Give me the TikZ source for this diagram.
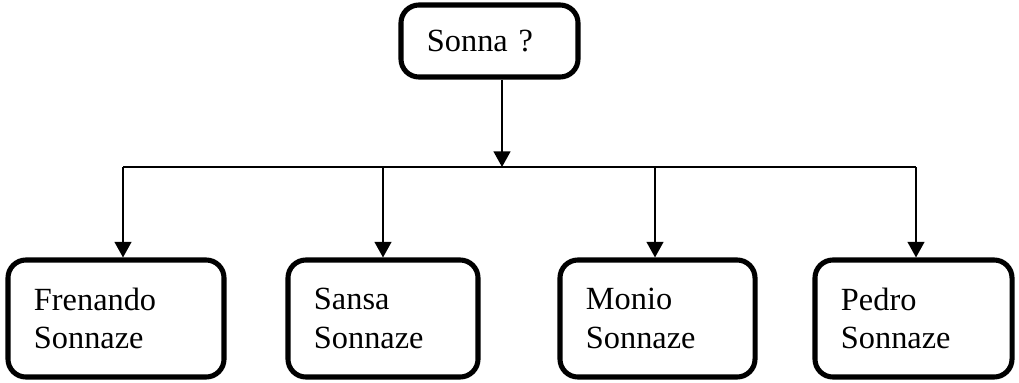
\documentclass[tikz,border=0pt]{standalone}
\usepackage{fontspec}
\setmainfont{Liberation Serif}
\usetikzlibrary{arrows.meta}
\begin{document}
\begin{tikzpicture}[x=0.025cm, y=-0.025cm,
    namebox/.style={draw, line width=3.6pt, rounded corners=0.45cm,
        text width=#1, inner xsep=0.65cm, align=left,
        font=\fontsize{23}{27.5}\selectfont},
    link/.style={line width=1.3pt, -{Triangle[length=0.39cm,width=0.42cm]}}]
    \useasboundingbox (0,0) rectangle (1019,382);

    % Question
    \node[namebox=3.125cm, minimum height=1.8cm] (sonna) at (489.5,41) {Sonna ?};

    % Children
    \node[namebox=4.1cm, minimum height=2.925cm] (frenando) at (116,318.5) {Frenando\\Sonnaze};
    \node[namebox=3.45cm, minimum height=2.925cm] (sansa) at (383,318.5) {Sansa\\Sonnaze};
    \node[namebox=3.575cm, minimum height=2.925cm] (monio) at (657.5,318.5) {Monio\\Sonnaze};
    \node[namebox=3.625cm, minimum height=2.925cm] (pedro) at (913.5,318.5) {Pedro\\Sonnaze};

    % Bus
    \coordinate (bus) at (502,167);
    \coordinate (busA) at (123,167);
    \coordinate (busB) at (383,167);
    \coordinate (busC) at (655,167);
    \coordinate (busD) at (916,167);
    \draw[line width=1.3pt] (busA) -- (busD);

    % Arrows
    \draw[link] (sonna.south -| bus) -- (bus);
    \draw[link] (busA) -- (busA |- frenando.north);
    \draw[link] (busB) -- (busB |- sansa.north);
    \draw[link] (busC) -- (busC |- monio.north);
    \draw[link] (busD) -- (busD |- pedro.north);
\end{tikzpicture}
\end{document}
